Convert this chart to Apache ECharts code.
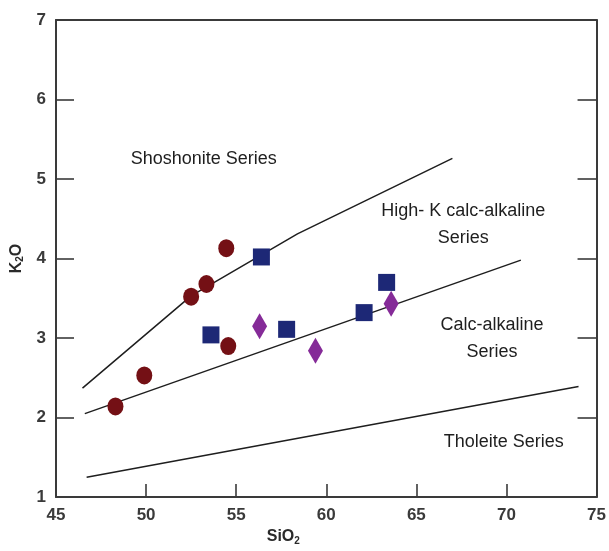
<!DOCTYPE html>
<html>
<head>
<meta charset="utf-8">
<script src="https://cdn.jsdelivr.net/npm/echarts@6/dist/echarts.min.js"></script>
<style>html,body{margin:0;padding:0;background:#fff;}#c{width:609px;height:551px;}</style>
</head>
<body>
<div id="c"></div>
<script>
// Sample data [SiO2, K2O]
var circles = [[48.3,2.14],[49.9,2.53],[52.5,3.52],[53.35,3.68],[54.45,4.13],[54.56,2.90]];
var squares = [[53.6,3.04],[56.4,4.02],[57.8,3.11],[62.1,3.32],[63.35,3.70]];
var diamonds = [[56.3,3.15],[59.4,2.84],[63.6,3.43]];
// Boundary lines
var shoshoniteLine = [[46.47,2.37],[52.5,3.53],[58.4,4.31],[67.0,5.26]];
var highKLine = [[46.6,2.05],[70.8,3.98]];
var tholeiteLine = [[46.7,1.25],[74.0,2.39]];
// Field labels [x, y, text]
var fieldLabels = [
  [53.2,5.25,'Shoshonite Series'],
  [67.6,4.6,'High- K calc-alkaline'],
  [67.6,4.26,'Series'],
  [69.2,3.16,'Calc-alkaline'],
  [69.2,2.83,'Series'],
  [69.85,1.69,'Tholeite Series']
];
var xTicks = [45,50,55,60,65,70,75];
var yTicks = [1,2,3,4,5,6,7];

var chart = echarts.init(document.getElementById('c'));
var axisCol = '#3a3a3a';
var labelFont = {fontFamily:'Liberation Sans Narrow, Liberation Sans, Arial', fontWeight:'bold', fontSize:17, color:'#3a3a3a'};
function lineSeries(d){
  return {type:'line', data:d, symbol:'none', silent:true, z:2,
    lineStyle:{color:'#1e1e1e', width:1.5}};
}
chart.setOption({
  animation:false,
  backgroundColor:'#fff',
  grid:{left:56, right:9, top:20, bottom:52},
  xAxis:[{
    type:'value', min:xTicks[0], max:xTicks[xTicks.length-1], interval:5,
    splitLine:{show:false},
    axisLine:{lineStyle:{color:axisCol, width:2}},
    axisTick:{inside:true, length:13, lineStyle:{color:axisCol, width:1.6}},
    axisLabel:Object.assign({margin:10}, labelFont),
    name:'{a|SiO}{b|2}', nameLocation:'middle', nameGap:26,
    nameTextStyle:{padding:[0,86,0,0], rich:{
      a:{fontFamily:'Liberation Sans, Arial', fontWeight:'bold', fontSize:16, color:'#2a2a2a'},
      b:{fontFamily:'Liberation Sans, Arial', fontWeight:'bold', fontSize:10, color:'#2a2a2a', verticalAlign:'bottom', padding:[8,0,0,0]}
    }}
  },{
    type:'value', position:'top', min:xTicks[0], max:xTicks[xTicks.length-1],
    axisLine:{show:true, lineStyle:{color:axisCol, width:2}},
    axisTick:{show:false}, axisLabel:{show:false}, splitLine:{show:false}
  }],
  yAxis:[{
    type:'value', min:yTicks[0], max:yTicks[yTicks.length-1], interval:1,
    splitLine:{show:false},
    axisLine:{lineStyle:{color:axisCol, width:2}},
    axisTick:{inside:true, length:18, lineStyle:{color:axisCol, width:1.6}},
    axisLabel:Object.assign({margin:10}, labelFont),
    name:'{a|K}{b|2}{a|O}', nameLocation:'middle', nameGap:30, nameRotate:90,
    nameTextStyle:{rich:{
      a:{fontFamily:'Liberation Sans, Arial', fontWeight:'bold', fontSize:16, color:'#2a2a2a'},
      b:{fontFamily:'Liberation Sans, Arial', fontWeight:'bold', fontSize:10, color:'#2a2a2a', verticalAlign:'bottom', padding:[8,0,0,0]}
    }}
  },{
    type:'value', position:'right', min:yTicks[0], max:yTicks[yTicks.length-1], interval:1,
    splitLine:{show:false},
    axisLine:{show:true, lineStyle:{color:axisCol, width:2}},
    axisTick:{show:true, inside:true, length:19, lineStyle:{color:axisCol, width:1.6}},
    axisLabel:{show:false}
  }],
  series:[
    lineSeries(shoshoniteLine),
    lineSeries(highKLine),
    lineSeries(tholeiteLine),
    {type:'scatter', data:fieldLabels.map(function(d){return [d[0],d[1],d[2]];}),
      symbolSize:0, silent:true, z:1, itemStyle:{opacity:1},
      label:{show:true, position:'inside', formatter:function(p){return p.data[2];},
        fontFamily:'Liberation Sans, Arial', fontSize:18, color:'#1e1e1e', opacity:1}},
    {type:'scatter', data:circles, symbol:'circle', symbolSize:[16,18], z:5,
      itemStyle:{color:'#741015', opacity:1}},
    {type:'scatter', data:squares, symbol:'rect', symbolSize:[17,17], z:5,
      itemStyle:{color:'#1d2876', opacity:1}},
    {type:'scatter', data:diamonds, symbol:'diamond', symbolSize:[15,26], z:5,
      itemStyle:{color:'#852b98', opacity:1}}
  ]
});
</script>
</body>
</html>
